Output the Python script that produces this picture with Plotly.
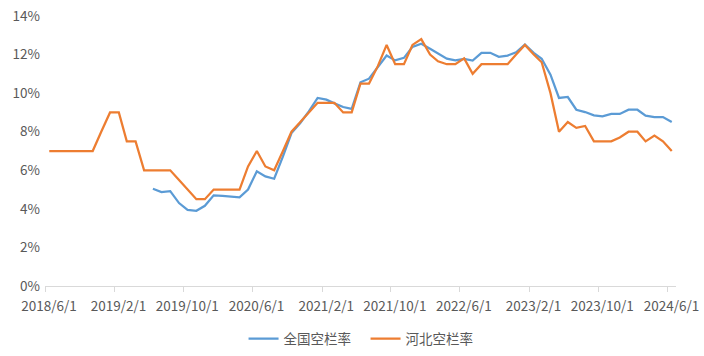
import pandas as pd
import plotly.graph_objects as go

# monthly data 2018/6 .. 2024/6 (73 months), values in %
months = pd.date_range("2018-06-01", "2024-06-01", freq="MS")

national = [None] * 12 + [
    5.04, 4.87, 4.92, 4.3, 3.95, 3.9, 4.16, 4.7, 4.67, 4.62, 4.6,   # 2019/6 - 2020/4
    5.0, 5.95, 5.68, 5.56, 6.72, 7.93, 8.45, 9.05, 9.75, 9.66, 9.47, # 2020/5 - 2021/3
    9.28, 9.18, 10.56, 10.75, 11.34, 11.95, 11.7, 11.83, 12.4, 12.56, # 2021/4 - 2022/1
    12.3, 12.05, 11.79, 11.7, 11.78, 11.69, 12.09, 12.09, 11.88, 11.95, # 2022/2 - 2022/11
    12.12, 12.52, 12.09, 11.78, 10.96, 9.75, 9.8, 9.14, 9.02, 8.85,    # 2022/12 - 2023/9
    8.8, 8.92, 8.92, 9.14, 9.14, 8.83, 8.76, 8.76, 8.5                 # 2023/10 - 2024/6
]

hebei = [
    7.0, 7.0, 7.0, 7.0, 7.0, 7.0, 8.0, 9.0, 9.0, 7.5, 7.5, 6.0,      # 2018/6 - 2019/5
    6.0, 6.0, 6.0, 5.5, 5.0, 4.5, 4.5, 5.0, 5.0, 5.0, 5.0,           # 2019/6 - 2020/4
    6.2, 7.0, 6.2, 6.0, 7.0, 8.0, 8.5, 9.0, 9.5, 9.5, 9.5,           # 2020/5 - 2021/3
    9.0, 9.0, 10.5, 10.5, 11.4, 12.5, 11.5, 11.5, 12.5, 12.8,        # 2021/4 - 2022/1
    12.0, 11.65, 11.5, 11.5, 11.8, 11.0, 11.5, 11.5, 11.5, 11.5,     # 2022/2 - 2022/11
    12.0, 12.5, 12.0, 11.6, 10.0, 8.0, 8.5, 8.2, 8.3, 7.5,           # 2022/12 - 2023/9
    7.5, 7.5, 7.7, 8.0, 8.0, 7.5, 7.8, 7.5, 7.0                      # 2023/10 - 2024/6
]

series_names = ["全国空栏率", "河北空栏率"]
colors = ["#5B9BD5", "#ED7D31"]

# Excel-style date axis: each month occupies a slot, point sits mid-slot
x_pos = months + pd.Timedelta(days=15)
tick_dates = pd.date_range("2018-06-01", "2024-06-01", freq="8MS")

fig = go.Figure()
for name, vals, col in zip(series_names, [national, hebei], colors):
    fig.add_trace(go.Scatter(
        x=x_pos, y=vals, name=name, mode="lines",
        line=dict(color=col, width=2.25), connectgaps=False,
    ))

font_family = "Noto Sans CJK SC, Noto Sans, sans-serif"
fig.update_layout(
    width=704, height=356,
    margin=dict(l=45, r=28, t=16, b=70, autoexpand=False),
    paper_bgcolor="white", plot_bgcolor="white",
    font=dict(family=font_family, size=13.5, color="#595959"),
    showlegend=True,
    legend=dict(orientation="h", x=0.508, xanchor="center",
                yref="container", y=0.048, yanchor="middle",
                font=dict(size=13.5, color="#595959"), itemwidth=30,
                entrywidth=77, traceorder="normal"),
)
fig.update_xaxes(
    type="date", range=["2018-06-01", "2024-07-01"],
    tickvals=tick_dates, tickformat="%Y/%-m/%-d",
    showgrid=False, showline=True, linecolor="#D9D9D9", linewidth=1,
    ticks="outside", ticklen=5, tickcolor="#D9D9D9",
    ticklabelshift=4, ticklabelstandoff=3,
    tickfont=dict(size=13.5, color="#595959"), automargin=False,
)
fig.update_yaxes(
    range=[0, 14], dtick=2, ticksuffix="%",
    showgrid=False, zeroline=False, showline=False,
    ticks="", ticklabelstandoff=4,
    tickfont=dict(size=13.5, color="#595959"), automargin=False,
)

fig.write_html("out.html")
